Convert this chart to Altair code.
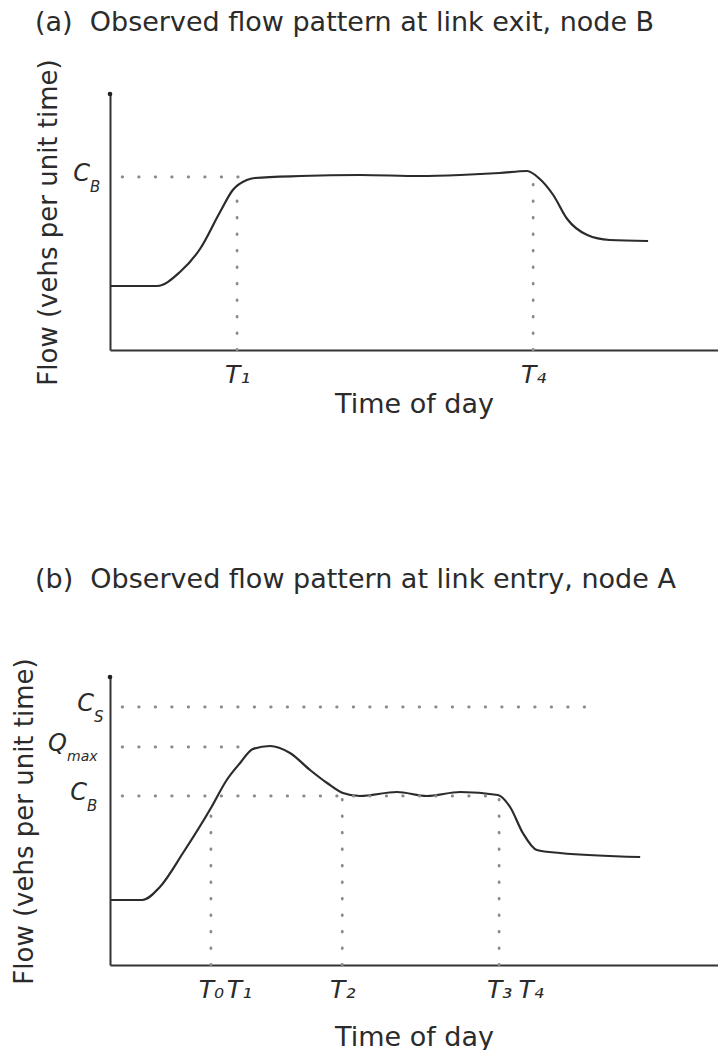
import altair as alt
import pandas as pd

FONT = "DejaVu Sans"
INK = "#2b2b2b"
DOT = "#8a8a8a"

# ---------------- panel (a) data ----------------
a_time = [0, 7.7, 11.5, 14.8, 18.1, 20.2, 22.5, 23.8, 31.3, 41.1, 51.0, 57.6, 64.1, 68.6, 70.7, 72.9, 75.2, 78.5, 82.2, 88.5]
a_flow = [64, 64, 78, 101, 138, 160, 170, 172, 174, 175, 174, 175, 177, 179, 171, 155, 131, 115, 110, 109]
a_tick_labels = ["T₁", "T₄"]
a_tick_times = [20.9, 69.6]
a_CB = 173
a_top = 256

# ---------------- panel (b) data ----------------
b_time = [0, 5.3, 8.2, 12.0, 16.6, 19.2, 21.4, 23.5, 26.3, 29.6, 32.9, 35.7, 38.3, 41.1, 47.2, 52.1, 57.6, 63.8, 65.8, 67.9, 70.2, 74.0, 87.2]
b_flow = [65, 65, 78, 112, 157, 185, 202, 216, 219, 212, 195, 182, 172, 169, 173, 169, 173, 170, 158, 132, 115, 112, 108]
b_tick_labels = ["T₀", "T₁", "T₂", "T₃", "T₄"]
b_tick_times = [16.6, 21.2, 38.2, 64.0, 69.2]
b_CS = 258
b_Qmax = 218
b_CB = 169
b_top = 288

X_DOMAIN = [0, 100]


def label_expr(values, labels):
    parts = [f"datum.value == {v} ? '{l}'" for v, l in zip(values, labels)]
    return " : ".join(parts) + " : ''"


def base_layers(time, flow, top, tick_times, tick_labels, ytitle_pad, xtitle_pad):
    df = pd.DataFrame({"t": time, "f": flow})
    x = alt.X("t:Q", scale=alt.Scale(domain=X_DOMAIN, nice=False, zero=True),
              axis=alt.Axis(values=tick_times, labelExpr=label_expr(tick_times, tick_labels),
                            title="Time of day", grid=False, ticks=False,
                            labelFontStyle="italic", labelFontSize=25, labelPadding=12,
                            labelColor=INK, labelFont=FONT,
                            titleFontSize=27, titleFont=FONT, titleFontWeight="normal",
                            titleColor=INK, titlePadding=xtitle_pad,
                            domainColor="#333", domainWidth=2))
    y = alt.Y("f:Q", scale=alt.Scale(domain=[0, top], nice=False, zero=True),
              axis=alt.Axis(labels=False, ticks=False, grid=False,
                            title="Flow (vehs per unit time)",
                            titleFontSize=26, titleFont=FONT, titleFontWeight="normal",
                            titleColor=INK, titlePadding=ytitle_pad,
                            domainColor="#333", domainWidth=2))
    line = alt.Chart(df).mark_line(color=INK, strokeWidth=2.2, interpolate="monotone").encode(x=x, y=y)
    topdot = alt.Chart(pd.DataFrame({"t": [0], "f": [top]})).mark_point(
        filled=True, color="#222", size=22, opacity=1).encode(x="t:Q", y="f:Q")
    return [line, topdot]


def dotted(rows):
    df = pd.DataFrame(rows, columns=["t", "f", "t2", "f2"])
    return alt.Chart(df).mark_rule(color=DOT, strokeWidth=2.8, strokeCap="round",
                                   strokeDash=[0.5, 16]).encode(
        x="t:Q", y="f:Q", x2="t2:Q", y2="f2:Q")


def ylabel(main, sub, level, dx, sub_size=15):
    df = pd.DataFrame({"t": [0], "f": [level]})
    m = alt.Chart(df).mark_text(text=main, font=FONT, fontStyle="italic", fontSize=24,
                                align="right", baseline="middle", dx=dx, dy=-3,
                                color=INK).encode(x="t:Q", y="f:Q")
    s = alt.Chart(df).mark_text(text=sub, font=FONT, fontStyle="italic", fontSize=sub_size,
                                align="left", baseline="middle", dx=dx, dy=10,
                                color=INK).encode(x="t:Q", y="f:Q")
    return [m, s]


def title(text, offset):
    return alt.Title(text, anchor="start", frame="group", dx=-75, fontSize=27, font=FONT,
                     fontWeight="normal", color=INK, offset=offset)


# ---------------- panel (a) ----------------
a_layers = base_layers(a_time, a_flow, a_top, a_tick_times, a_tick_labels, 49, 4)
a_layers.append(dotted([
    [2, a_CB, 21.2, a_CB],
    [a_tick_times[0], 0, a_tick_times[0], 165],
    [a_tick_times[1], 0, a_tick_times[1], 166],
]))
a_layers += ylabel("C", "B", a_CB, -20)

panel_a = alt.layer(*a_layers).properties(
    width=608, height=256,
    title=title("(a)\u00a0\u00a0Observed flow pattern at link exit, node B", 22),
)

# ---------------- panel (b) ----------------
b_layers = base_layers(b_time, b_flow, b_top, b_tick_times, b_tick_labels, 73, 22)
b_layers.append(dotted([
    [2, b_CS, 80.3, b_CS],
    [2, b_Qmax, 23.0, b_Qmax],
    [2, b_CB, b_tick_times[3], b_CB],
    [b_tick_times[0], 0, b_tick_times[0], 157],
    [b_tick_times[2], 0, b_tick_times[2], b_CB],
    [b_tick_times[3], 0, b_tick_times[3], b_CB],
]))
b_layers += ylabel("C", "S", b_CS, -16)
b_layers += ylabel("Q", "max", b_Qmax, -43, sub_size=14)
b_layers += ylabel("C", "B", b_CB, -23)

panel_b = alt.layer(*b_layers).properties(
    width=608, height=288,
    title=title("(b)\u00a0\u00a0Observed flow pattern at link entry, node A", 64),
)

chart = alt.vconcat(panel_a, panel_b, spacing=148).properties(
    padding={"left": 10, "top": 8, "right": 0, "bottom": 0},
    background="white",
).configure_view(stroke=None)

chart.save("out.html", embed_options={"renderer": "svg", "actions": False})
